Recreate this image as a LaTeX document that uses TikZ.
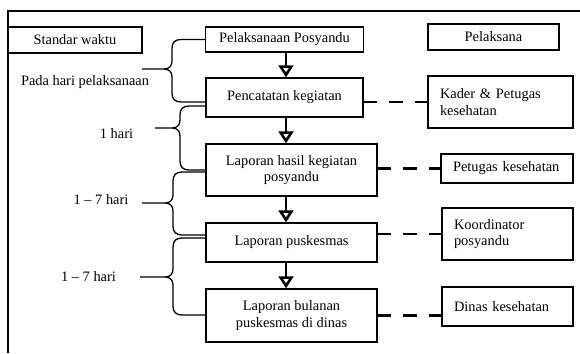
\documentclass[tikz,border=0pt]{standalone}
\usepackage{fontspec}
\setmainfont{Liberation Serif}
\usetikzlibrary{arrows.meta}
\newcommand\drawbrace[6]{%
  \draw[bracepath] (#1,#3) -- ({#2+9},#3) .. controls ({#2+3},#3) and (#2,{#3+3}) .. (#2,{#3+9})
    -- (#2,{#4-8}) .. controls (#2,{#4-3}) and ({#2-3},#4) .. ({#2-8},#4) -- (#6,#4)
    ({#2-8},#4) .. controls ({#2-3},#4) and (#2,{#4+3}) .. (#2,{#4+8})
    -- (#2,{#5-9}) .. controls (#2,{#5-3}) and ({#2+3},#5) .. ({#2+9},#5) -- (#1,#5);}
\begin{document}
\begin{tikzpicture}[x=1pt,y=-1pt,
  every node/.style={font=\fontsize{14.4}{16.5}\selectfont, text=black},
  box/.style={draw, line width=1.5pt, inner sep=0pt, align=center},
  rbox/.style={draw, line width=1.5pt, inner xsep=12pt, inner ysep=0pt, align=left},
  arr/.style={line width=2.6pt, -{Triangle[open, length=12pt, width=15pt]}},
  dashline/.style={line width=2.6pt, dash pattern=on 13.5pt off 12pt},
  bracepath/.style={line width=1.3pt},
  frame/.style={line width=1.8pt}]
\useasboundingbox (0,0) rectangle (580,353);
% frame
\coordinate (f1) at (8,353);
\coordinate (f2) at (8,11);
\coordinate (f3) at (580,11);
\draw[frame] (f1) -- (f2) -- (f3);
% left column
\node[box, minimum width=134pt, minimum height=26pt] (std) at (75,40) {Standar waktu};
% middle column
\node[box, minimum width=158pt, minimum height=25pt] (pp) at (284.5,39.5) {Pelaksanaan Posyandu};
\node[box, minimum width=157pt, minimum height=39pt] (pk) at (284.5,97.5) {Pencatatan kegiatan};
\node[box, minimum width=171pt, minimum height=52pt] (lh) at (291.5,170) {Laporan hasil kegiatan\\posyandu};
\node[box, minimum width=171pt, minimum height=39pt] (lp) at (291.5,242.5) {Laporan puskesmas};
\node[box, minimum width=171pt, minimum height=53pt] (lb) at (291.5,315.5) {Laporan bulanan\\puskesmas di dinas};
% right column
\node[box, minimum width=131pt, minimum height=26pt] (pel) at (493.5,37) {Pelaksana};
\node[rbox, text width=121pt, minimum height=52pt] (kader) at (500.5,102) {Kader \& Petugas\\kesehatan};
\node[rbox, text width=108pt, minimum height=29pt] (pet) at (507,168.5) {Petugas kesehatan};
\node[rbox, text width=107pt, minimum height=52pt] (koor) at (507.5,234) {Koordinator\\posyandu};
\node[rbox, text width=107pt, minimum height=39pt] (dinas) at (507.5,306.5) {Dinas kesehatan\\[3pt]};
% arrows
\coordinate (ax) at (286,0);
\draw[arr] (pp.south -| ax) -- (pk.north -| ax);
\draw[arr] (pk.south -| ax) -- (lh.north -| ax);
\draw[arr] (lh.south -| ax) -- (lp.north -| ax);
\draw[arr] (lp.south -| ax) -- (lb.north -| ax);
% dashed links
\draw[dashline] (pk.east |- kader.west) -- (kader.west);
\draw[dashline] (lh.east |- pet.west) -- (pet.west);
\draw[dashline] (lp.east |- koor.west) -- (koor.west);
\draw[dashline] (lb.east) -- (lb.east -| dinas.west);
% braces
\drawbrace{206}{172}{39.5}{69}{102}{142}
\drawbrace{206}{180}{106}{128}{170}{155}
\drawbrace{206}{173}{172}{203}{235}{142}
\drawbrace{206}{173}{238}{277}{315}{140}
% time labels
\node (t1) at (85,82) {Pada hari pelaksanaan};
\node (t2) at (116.5,134) {1 hari};
\node (t3) at (101,200) {1 -- 7 hari};
\node (t4) at (88.5,277) {1 -- 7 hari};
\end{tikzpicture}
\end{document}
